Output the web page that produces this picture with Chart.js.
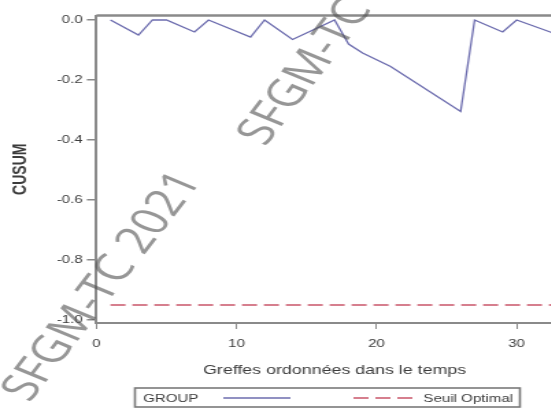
<!DOCTYPE html>
<html>
<head>
<meta charset="utf-8">
<script src="https://cdn.jsdelivr.net/npm/chart.js@4/dist/chart.umd.min.js"></script>
<style>
  html, body { margin: 0; padding: 0; background: #fff; overflow: hidden; width: 551px; height: 408px; }
  /* the figure is drawn on a narrower canvas and widened horizontally */
  #wrap { position: absolute; left: 0; top: 0; width: 418px; height: 408px; transform: scaleX(1.37); transform-origin: 0 0; }
  canvas { display: block; }
</style>
</head>
<body>
<div id="wrap"><canvas id="cusum" width="418" height="408"></canvas></div>
<script>
// CUSUM curve: graft order (x) and cumulative sum (y)
const graftOrder  = [1, 3, 4, 5, 7, 8, 11, 12, 14, 17, 18, 19, 21, 26, 27, 29, 30, 33];
const cusumValues = [0, -0.05, 0, 0, -0.04, 0, -0.057, 0, -0.065, 0, -0.08, -0.11, -0.155, -0.305, 0, -0.04, 0, -0.05];

// optimal threshold, drawn over the whole graft range
const thresholdValue = -0.95;
const thresholdRange = [1, 33];

const xTickValues = [0, 10, 20, 30];
const yTickValues = [0, -0.2, -0.4, -0.6, -0.8, -1.0];
const seriesLabels = ['GROUP', 'Seuil Optimal'];
const xAxisTitle = 'Greffes ordonnées dans le temps';
const yAxisTitle = 'CUSUM';
const watermarkText = 'SFGM-TC 2021';

const AXIS_GREY = '#8a8a8a';
const TEXT_GREY = '#3c3c3c';
const FONT = '"Liberation Sans", Arial, sans-serif';

const groupData = graftOrder.map((g, i) => ({ x: g, y: cusumValues[i] }));
const thresholdData = thresholdRange.map(g => ({ x: g, y: thresholdValue }));

// top edge of the plot frame
const frameTop = {
  id: 'frameTop',
  beforeDatasetsDraw(chart) {
    const { ctx, chartArea: a } = chart;
    ctx.save();
    ctx.strokeStyle = AXIS_GREY;
    ctx.lineWidth = 2.5;
    ctx.beginPath();
    ctx.moveTo(a.left, a.top);
    ctx.lineTo(a.right, a.top);
    ctx.stroke();
    ctx.restore();
  }
};

// diagonal watermark repeated along the figure
const watermark = {
  id: 'watermark',
  afterDatasetsDraw(chart) {
    const { ctx } = chart;
    const angle = -60.5 * Math.PI / 180;
    const starts = [[12, 398], [184, 142]];
    ctx.save();
    ctx.font = '400 38px "Open Sans", sans-serif';
    ctx.fillStyle = 'rgba(80,80,80,0.6)';
    ctx.textBaseline = 'middle';
    ctx.textAlign = 'left';
    starts.forEach(([sx, sy]) => {
      ctx.save();
      ctx.translate(sx, sy);
      ctx.rotate(angle);
      ctx.fillText(watermarkText, 0, 0);
      ctx.restore();
    });
    ctx.restore();
  }
};

// boxed legend under the axis title
const legendBox = {
  id: 'legendBox',
  afterDraw(chart) {
    const { ctx } = chart;
    const ds = chart.data.datasets;
    const top = 388, bottom = 407, midY = 398.5;
    const left = 98.5, right = 379.5;
    ctx.save();
    ctx.fillStyle = '#fff';
    ctx.fillRect(left, top, right - left, bottom - top);
    ctx.strokeStyle = '#7a7a7a';
    ctx.lineWidth = 1.6;
    ctx.strokeRect(left, top, right - left, bottom - top);

    ctx.font = '11px ' + FONT;
    ctx.fillStyle = TEXT_GREY;
    ctx.textBaseline = 'middle';
    ctx.textAlign = 'left';
    ctx.fillText(ds[0].label, left + 6, midY);

    ctx.lineWidth = 1.4;
    ctx.strokeStyle = ds[0].borderColor;
    ctx.setLineDash([]);
    ctx.beginPath();
    ctx.moveTo(163, midY - 0.5);
    ctx.lineTo(212, midY - 0.5);
    ctx.stroke();

    ctx.strokeStyle = ds[1].borderColor;
    ctx.setLineDash(ds[1].borderDash);
    ctx.beginPath();
    ctx.moveTo(258, midY - 0.5);
    ctx.lineTo(305, midY - 0.5);
    ctx.stroke();
    ctx.setLineDash([]);

    ctx.textAlign = 'right';
    ctx.fillText(ds[1].label, right - 5, midY);
    ctx.restore();
  }
};

new Chart(document.getElementById('cusum'), {
  type: 'line',
  data: {
    datasets: [
      {
        label: seriesLabels[0],
        data: groupData,
        borderColor: '#6c6cae',
        borderWidth: 1.3,
        pointRadius: 0,
        tension: 0,
        fill: false
      },
      {
        label: seriesLabels[1],
        data: thresholdData,
        borderColor: '#c9566a',
        borderWidth: 1.4,
        borderDash: [11, 5],
        pointRadius: 0,
        tension: 0,
        fill: false
      }
    ]
  },
  options: {
    responsive: false,
    animation: false,
    events: [],
    layout: { padding: { left: 0, right: 0, top: 15.5, bottom: 24 } },
    plugins: { legend: { display: false }, tooltip: { enabled: false } },
    scales: {
      x: {
        type: 'linear',
        min: 0,
        max: 34,
        afterFit(s) { s.height = 61; },
        afterBuildTicks(s) { s.ticks = xTickValues.map(v => ({ value: v })); },
        grid: { drawOnChartArea: false, drawTicks: true, tickLength: 6, color: AXIS_GREY, lineWidth: 1 },
        border: { display: true, color: AXIS_GREY, width: 2 },
        ticks: {
          padding: 8,
          maxRotation: 0,
          color: TEXT_GREY,
          font: { family: FONT, size: 11 },
          callback: v => String(v)
        },
        title: {
          display: true,
          text: xAxisTitle,
          color: TEXT_GREY,
          font: { family: FONT, size: 13 },
          padding: { top: 0, bottom: 6 }
        }
      },
      y: {
        type: 'linear',
        min: -1.01,
        max: 0.015,
        afterFit(s) { s.width = 70.4; },
        afterBuildTicks(s) { s.ticks = yTickValues.map(v => ({ value: v })); },
        grid: { drawOnChartArea: false, drawTicks: true, tickLength: 7, color: AXIS_GREY, lineWidth: 1.5 },
        border: { display: true, color: AXIS_GREY, width: 2 },
        ticks: {
          padding: 3,
          color: TEXT_GREY,
          font: { family: FONT, size: 11 },
          callback: v => Number(v).toFixed(1)
        },
        title: {
          display: true,
          text: yAxisTitle,
          color: TEXT_GREY,
          font: { family: FONT, size: 14, weight: 'bold' },
          padding: { top: 7, bottom: 0 }
        }
      }
    }
  },
  plugins: [frameTop, watermark, legendBox]
});
</script>
</body>
</html>
